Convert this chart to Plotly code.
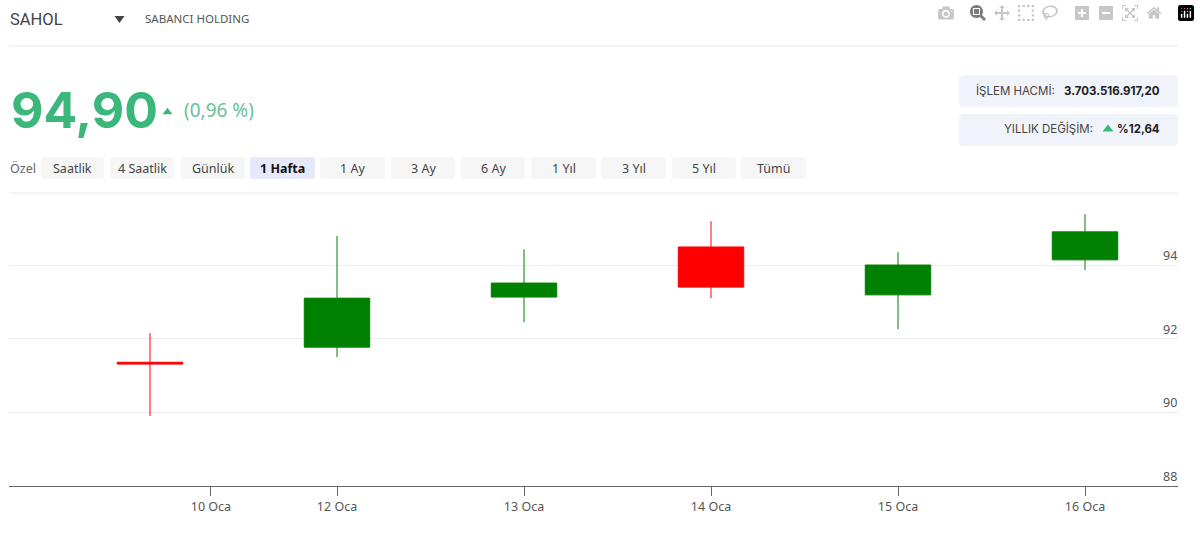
import plotly.graph_objects as go

W, H = 1200, 541
L, R, T, B = 9, 1178, 193, 486

candle_x = [-1, 0, 1, 2, 3, 4, 5]
opens = [90.42, 91.36, 91.77, 93.13, 94.49, 93.19, 94.14]
highs = [91.07, 92.15, 94.79, 94.43, 95.19, 94.35, 95.38]
lows = [90.42, 89.90, 91.50, 92.45, 93.10, 92.26, 93.86]
closes = [91.07, 91.31, 93.10, 93.51, 93.40, 94.00, 94.90]
x_tick_vals = [0.326, 1, 2, 3, 4, 5]
x_tick_text = ["10 Oca", "12 Oca", "13 Oca", "14 Oca", "15 Oca", "16 Oca"]
y_ticks = [88, 90, 92, 94]
buttons = ["Saatlik", "4 Saatlik", "Günlük", "1 Hafta", "1 Ay", "3 Ay", "6 Ay", "1 Yıl", "3 Yıl", "5 Yıl", "Tümü"]
button_edges = [(41, 104), (110, 174), (181, 245), (250, 315), (320, 385), (391, 455),
                (461, 525), (531, 596), (601, 666), (672, 736), (741, 806)]


def px(x):
    return (x - L) / (R - L)


def py(y):
    return (B - y) / (B - T)


shapes, notes = [], []


def text(x, y, s, size, color, family="Noto Sans", anchor="left", bold=False):
    notes.append(dict(xref="paper", yref="paper", x=px(x), y=py(y), text=f"<b>{s}</b>" if bold else s,
                      showarrow=False, xanchor=anchor, yanchor="middle", borderpad=0,
                      font=dict(size=size, color=color, family=family)))


def box(x0, y0, x1, y1, fill, radius=3):
    r = radius
    X0, X1, Y0, Y1 = px(x0), px(x1), py(y0), py(y1)
    rx, ry = r / (R - L), r / (B - T)
    path = (f"M {X0+rx} {Y0} L {X1-rx} {Y0} Q {X1} {Y0} {X1} {Y0-ry} L {X1} {Y1+ry} Q {X1} {Y1} {X1-rx} {Y1} "
            f"L {X0+rx} {Y1} Q {X0} {Y1} {X0} {Y1+ry} L {X0} {Y0-ry} Q {X0} {Y0} {X0+rx} {Y0} Z")
    shapes.append(dict(type="path", xref="paper", yref="paper", path=path, fillcolor=fill, line_width=0, layer="below"))


def tri(cx, cy, w, h, color, up=True):
    a, b = (cy + h / 2, cy - h / 2) if up else (cy - h / 2, cy + h / 2)
    path = f"M {px(cx-w/2)} {py(a)} L {px(cx+w/2)} {py(a)} L {px(cx)} {py(b)} Z"
    shapes.append(dict(type="path", xref="paper", yref="paper", path=path, fillcolor=color, line_width=0))


def hline(y, x0=L, x1=R, color="#e9e9e9"):
    shapes.append(dict(type="line", xref="paper", yref="paper", x0=px(x0), x1=px(x1), y0=py(y), y1=py(y),
                       line=dict(color=color, width=1), layer="below"))


GREEN = "#3cb77c"
text(9, 19, "SAHOL", 16.5, "#444444", "Roboto")
tri(119.5, 19.5, 10, 7, "#444444", up=False)
text(144, 18.5, "SABANCI HOLDING", 11.5, "#555555", "Noto Sans")
hline(46)
text(10, 110, "94,90", 50, GREEN, "Inter", bold=True)
tri(167.5, 111, 10, 6.5, GREEN)
text(183, 110, "(0,96 %)", 19, "#6dbf96", "Noto Sans")

box(959, 75, 1178, 107, "#f1f3fa", 5)
box(959, 114, 1178, 146, "#f1f3fa", 5)
text(975, 91, "İŞLEM HACMİ:", 11.5, "#444444", "Inter")
text(1161, 91, "3.703.516.917,20", 11.5, "#222222", "Inter", "right", True)
text(1094, 128.5, "YILLIK DEĞİŞİM:", 11.5, "#444444", "Inter", "right")
tri(1108, 128, 11, 7, GREEN)
text(1161, 128.5, "%12,64", 11.5, "#222222", "Inter", "right", True)

text(9, 168, "Özel", 12.5, "#666666")
for label, (a, b) in zip(buttons, button_edges):
    active = label == "1 Hafta"
    box(a, 157, b, 179, "#e6e9fb" if active else "#f6f6f6", 2)
    text((a + b) / 2, 168, label, 12.5, "#111111" if active else "#444444", anchor="center", bold=active)
hline(193)

for v in y_ticks:
    notes.append(dict(xref="paper", yref="y", x=1, y=v, text=str(v), showarrow=False, xanchor="right",
                      yanchor="bottom", yshift=0, borderpad=0, font=dict(size=12.5, color="#555555", family="Noto Sans")))

fig = go.Figure(go.Candlestick(
    x=candle_x, open=opens, high=highs, low=lows, close=closes,
    increasing=dict(line=dict(color="#008000", width=1), fillcolor="#008000"),
    decreasing=dict(line=dict(color="#ff0000", width=1), fillcolor="#ff0000"),
    showlegend=False, whiskerwidth=0,
))
fig.update_layout(
    width=W, height=H, margin=dict(l=L, r=W - R, t=T, b=H - B, pad=0), paper_bgcolor="white", plot_bgcolor="white",
    boxgap=0.5, shapes=shapes, annotations=notes, showlegend=False,
    xaxis=dict(range=[(L - 150) / 187, (R - 150) / 187], rangeslider=dict(visible=False), tickmode="array",
               tickvals=x_tick_vals, ticktext=x_tick_text, ticks="outside", ticklen=9, tickcolor="#666666", tickwidth=1,
               showgrid=False, showline=True, linecolor="#666666", linewidth=1, zeroline=False,
               tickfont=dict(size=12.5, color="#555555", family="Noto Sans")),
    yaxis=dict(range=[88, 88 + (B - T) / 36.83], tickvals=y_ticks, showticklabels=False, showgrid=True,
               gridcolor="#ececec", gridwidth=1, zeroline=False, showline=False, ticks=""),
)
fig.write_html("out.html", post_script="document.body.style.margin='0';document.body.style.overflow='hidden';")
